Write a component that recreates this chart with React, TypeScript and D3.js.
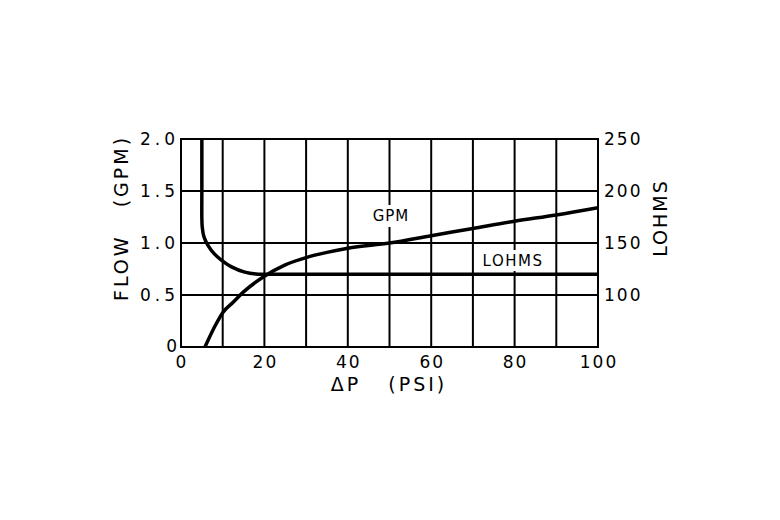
import React from 'react';
import * as d3 from 'd3';

// pressure drop (psi) vs flow (gpm)
const gpmPoints: [number, number][] = [
  [5.75, 0], [8, 0.19], [10, 0.33], [12.5, 0.43], [15, 0.53], [20, 0.68],
  [25, 0.79], [30, 0.86], [35, 0.91], [40, 0.95], [50, 1.0], [60, 1.07],
  [70, 1.14], [80, 1.21], [90, 1.27], [100, 1.34],
];

// pressure drop (psi) vs lohms
const lohmsPoints: [number, number][] = [
  [5, 262], [5, 200], [5, 174], [5.1, 165], [5.5, 156], [6.5, 147.5], [8, 139.5],
  [9.75, 133.3], [12, 127.3], [15.3, 122], [18.5, 120], [22, 120], [30, 120],
  [50, 120], [75, 120], [100, 120],
];

const xTicks = [0, 20, 40, 60, 80, 100];
const xGrid = d3.range(0, 101, 10);
const leftTicks = [0, 0.5, 1.0, 1.5, 2.0];
const leftLabels = ['0', '0.5', '1.0', '1.5', '2.0'];
const rightTicks = [100, 150, 200, 250];

const font = 'DejaVu Sans, sans-serif';

export default function App() {
  const x = d3.scaleLinear().domain([0, 100]).range([181, 598]);
  const yL = d3.scaleLinear().domain([0, 2]).range([347, 139]);
  const yR = d3.scaleLinear().domain([50, 250]).range([347, 139]);

  const gpmLine = d3.line<[number, number]>()
    .x(d => x(d[0]))
    .y(d => yL(d[1]))
    .curve(d3.curveMonotoneX);

  const lohmsLine = d3.line<[number, number]>()
    .x(d => x(d[0]))
    .y(d => yR(d[1]))
    .curve(d3.curveCatmullRom.alpha(0.5));

  const [x0, x1] = x.range();
  const [yb, yt] = yL.range();

  return (
    <svg width={780} height={520} style={{ position: 'absolute', left: 0, top: 0, background: '#fff' }}>
      <defs>
        <clipPath id="plot">
          <rect x={x0} y={yt} width={x1 - x0} height={yb - yt} />
        </clipPath>
      </defs>

      {/* grid */}
      {xGrid.map(v => (
        <line key={'gx' + v} x1={x(v)} x2={x(v)} y1={yt} y2={yb} stroke="#000" strokeWidth={2} />
      ))}
      {leftTicks.map(v => (
        <line key={'gy' + v} x1={x0} x2={x1} y1={yL(v)} y2={yL(v)} stroke="#000" strokeWidth={2} />
      ))}
      <rect x={x0} y={yt} width={x1 - x0} height={yb - yt} fill="none" stroke="#000" strokeWidth={2} />

      {/* curves */}
      <g clipPath="url(#plot)">
        <path d={gpmLine(gpmPoints) || ''} fill="none" stroke="#000" strokeWidth={3.5} />
        <path d={lohmsLine(lohmsPoints) || ''} fill="none" stroke="#000" strokeWidth={3.5} />
      </g>

      {/* in-plot labels */}
      <rect x={372} y={205} width={38} height={22} fill="#fff" />
      <text x={391} y={216} textAnchor="middle" dominantBaseline="central" fontFamily={font} fontSize={15} letterSpacing={1}>GPM</text>
      <rect x={478} y={250} width={70} height={21} fill="#fff" />
      <text x={513} y={261} textAnchor="middle" dominantBaseline="central" fontFamily={font} fontSize={15} letterSpacing={1.5}>LOHMS</text>

      {/* left ticks */}
      {leftTicks.map((v, i) => (
        <text key={'ly' + v} x={i === 0 ? 177 : 179} y={yL(v) + (i === 0 ? -1 : 0)} textAnchor="end" dominantBaseline="central"
          fontFamily={font} fontSize={17} letterSpacing={i === 0 ? 0 : 4}>{leftLabels[i]}</text>
      ))}

      {/* right ticks */}
      {rightTicks.map(v => (
        <text key={'ry' + v} x={604} y={yR(v)} textAnchor="start" dominantBaseline="central"
          fontFamily={font} fontSize={17} letterSpacing={2}>{v}</text>
      ))}

      {/* bottom ticks */}
      {xTicks.map(v => (
        <text key={'xt' + v} x={x(v) + 1} y={362} textAnchor="middle" dominantBaseline="central"
          fontFamily={font} fontSize={17} letterSpacing={2}>{v}</text>
      ))}

      {/* axis titles */}
      <text x={389} y={384} textAnchor="middle" dominantBaseline="central" fontFamily={font} fontSize={19} letterSpacing={3}
        style={{ whiteSpace: 'pre' }}>{'ΔP   (PSI)'}</text>
      <text transform="translate(121,218) rotate(-90)" textAnchor="middle" dominantBaseline="central" fontFamily={font}
        fontSize={19} letterSpacing={3} style={{ whiteSpace: 'pre' }}>{'FLOW   (GPM)'}</text>
      <text transform="translate(660,218) rotate(-90)" textAnchor="middle" dominantBaseline="central" fontFamily={font}
        fontSize={19} letterSpacing={2}>LOHMS</text>
    </svg>
  );
}
